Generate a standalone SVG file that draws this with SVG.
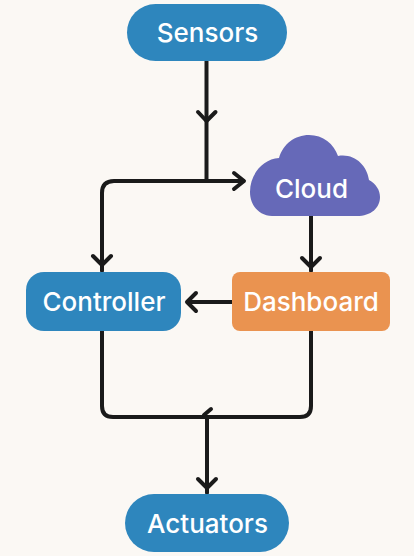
<svg xmlns="http://www.w3.org/2000/svg" width="414" height="556" viewBox="0 0 414 556">
<style>
.c{fill:none;stroke:#1a1a1a;stroke-width:4;stroke-linecap:round;stroke-linejoin:round}
.b{fill:#2e86bd}
.o{fill:#ea9350}
.p{fill:#6669b8}
text{font-family:Inter,"Liberation Sans",sans-serif;font-size:26px;font-weight:500;fill:#fff;text-anchor:middle}
</style>
<rect width="414" height="556" fill="#fbf8f4"/>
<g id="connectors">
<path class="c" d="M206.500 61V181"/>
<path class="c" d="M198 112L206.500 121L215.500 112"/>
<path class="c" d="M243 181H114Q102 181 102 193V271"/>
<path class="c" d="M234 173L244 181L234 189"/>
<path class="c" d="M93 256L102 265L111 256"/>
<path class="c" d="M311 216V271"/>
<path class="c" d="M302 258L311 267L320 258"/>
<path class="c" d="M232 302H188"/>
<path class="c" d="M196 293L187 302L196 311"/>
<path class="c" d="M102 331V406Q102 417 113 417H300Q311 417 311 406V331"/>
<path class="c" d="M204 415L211 409"/>
<path class="c" d="M207 417V493"/>
<path class="c" d="M198 479L207 488L216 479"/>
</g>
<g id="sensors"><rect class="b" x="127" y="4" width="160" height="57" rx="28.500"/><text x="207.500" y="41.500">Sensors</text></g>
<g id="cloud"><path class="p" d="M279 158C283 144 295 135 309 135C323 135 334 144 338 156C354 153 367 165 369 180C376 184 380 190 380 197C380 208 371 216 357 216H272C259 216 250 205 250 192C250 174 263 159 279 158Z"/><text x="311.500" y="197.500">Cloud</text></g>
<g id="controller"><rect class="b" x="26" y="272" width="155" height="59" rx="18"/><text x="104" y="310.500">Controller</text></g>
<g id="dashboard"><rect class="o" x="232" y="272" width="158" height="59" rx="8"/><text x="311" y="310.500">Dashboard</text></g>
<g id="actuators"><rect class="b" x="125" y="494" width="164" height="58" rx="29"/><text x="207.500" y="532.500">Actuators</text></g>
</svg>
